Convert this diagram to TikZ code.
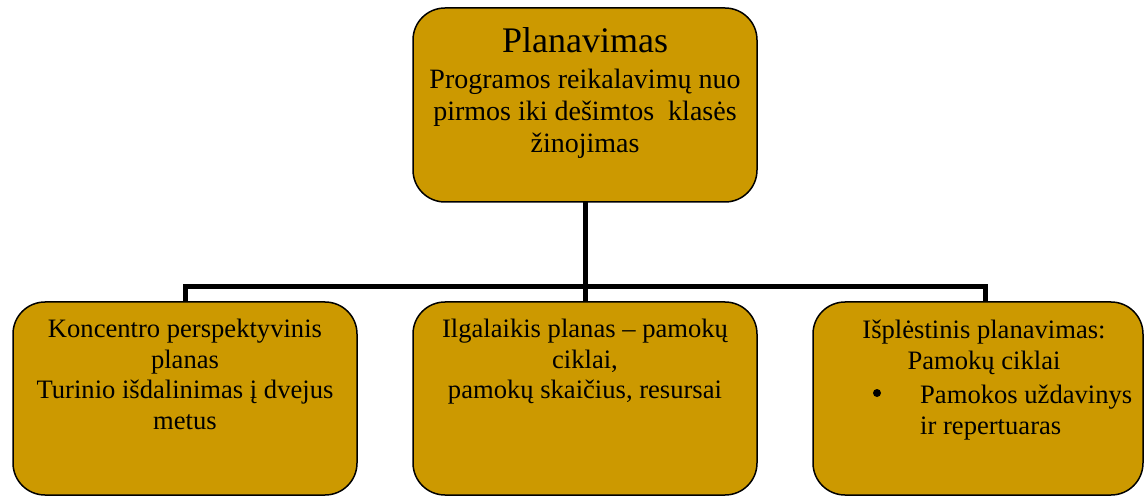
\documentclass[tikz,border=0pt]{standalone}
\usepackage{fontspec}
\setmainfont{Liberation Serif}
\definecolor{gold}{RGB}{204,153,0}
\begin{document}
\begin{tikzpicture}[x=1pt,y=-1pt,
  box/.style={draw=black, line width=1.5pt, fill=gold, rounded corners=32pt, inner sep=0pt},
  conn/.style={line width=5pt, line join=miter},
  titletxt/.style={font=\fontsize{36}{41}\selectfont, inner sep=0pt, anchor=base},
  subtxt/.style={font=\fontsize{28}{32}\selectfont, align=center, inner sep=0pt, anchor=north},
  btxt/.style={font=\fontsize{26.6}{30.5}\selectfont, align=center, inner sep=0pt, anchor=north},
  ltxt/.style={font=\fontsize{26.6}{30.5}\selectfont, align=left, inner sep=0pt, anchor=north west}]
\useasboundingbox (0,0) rectangle (1144,497);
% connectors (drawn first, under the boxes)
\coordinate (j) at (585,287);
\coordinate (bl) at (185,287);
\coordinate (br) at (985,287);
\coordinate (b1top) at (185,302);
\coordinate (b2top) at (585,302);
\coordinate (b3top) at (985,302);
\coordinate (topbot) at (585,202);
\draw[conn] (topbot) -- (j);
\draw[conn] (b1top) -- (bl) -- (br) -- (b3top);
\draw[conn] (j) -- (b2top);
% boxes
\node[box, minimum width=344pt, minimum height=194pt] (top) at (585,105) {};
\node[box, minimum width=344pt, minimum height=193pt] (b1) at (185,398.5) {};
\node[box, minimum width=344pt, minimum height=193pt] (b2) at (585,398.5) {};
\node[box, minimum width=330pt, minimum height=193pt] (b3) at (978,398.5) {};
% texts
\node[titletxt] (t0) at (585,53) {Planavimas};
\node[subtxt] (t1) at (585,69) {Programos reikalavimų nuo\\pirmos iki dešimtos\ \ klasės\\žinojimas};
\node[btxt] (x1) at (185,319) {Koncentro perspektyvinis\\planas\\Turinio išdalinimas į dvejus\\metus};
\node[btxt] (x2) at (585,319) {Ilgalaikis planas – pamokų\\ciklai,\\pamokų skaičius, resursai};
\node[btxt] (x3) at (984,320) {Išplėstinis planavimas:\\Pamokų ciklai};
\node[circle, fill=black, inner sep=0pt, minimum size=8pt] (bul) at (877,393) {};
\node[ltxt] (x4) at (920,385) {Pamokos uždavinys\\ir repertuaras};
\end{tikzpicture}
\end{document}
